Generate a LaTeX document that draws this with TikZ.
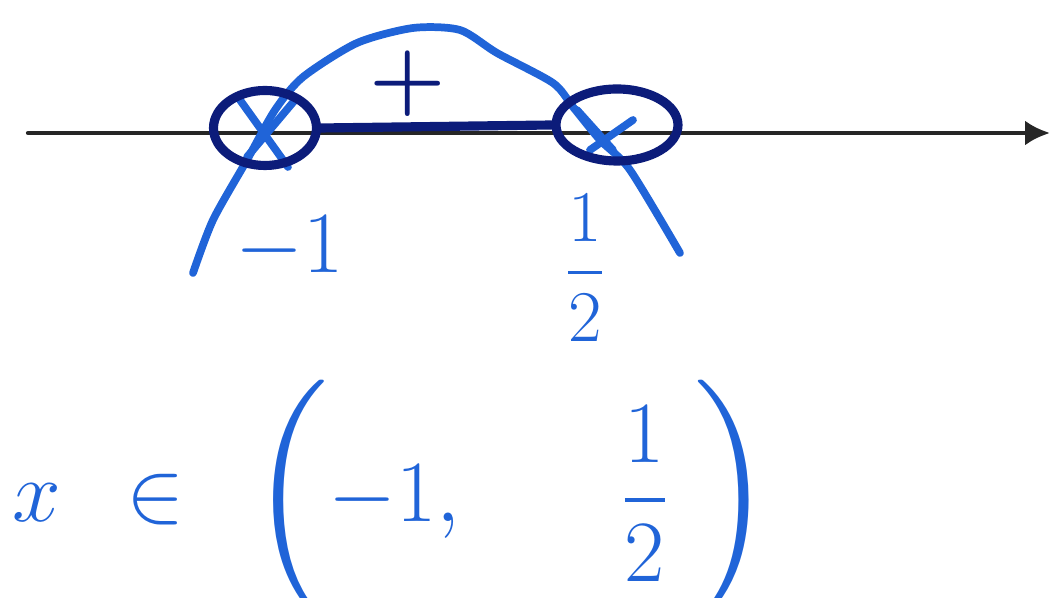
\documentclass[tikz,border=0pt]{standalone}
\usepackage{amsmath, amssymb}
\usepackage{xcolor}
\usepackage{tikz}
\usetikzlibrary{arrows.meta, positioning, shapes.geometric}
\definecolor{PenBlue}{RGB}{32, 100, 216}
\definecolor{PenNavy}{RGB}{12, 28, 122}

\begin{document}
\begin{tikzpicture}[line cap=round, line join=round,
    pen/.style={PenBlue, line width=2.2pt},
    ink/.style={PenNavy, line width=2.6pt},
    rootring/.style={ellipse, draw=PenNavy, line width=2.6pt, inner sep=0pt}]
    \useasboundingbox (0,0) rectangle (10.53,5.98);

    % Zahlengerade
    \coordinate (axstart) at (0.28,4.65);
    \coordinate (axend) at (10.50,4.65);
    \draw[-{Latex[length=2.5mm, width=2.5mm]}, line width=1.2pt, black!85] (axstart) -- (axend);

    % Parabel (nach unten geoeffnet)
    \draw[pen] plot[smooth, tension=0.45] coordinates {(1.93,3.25) (2.13,3.78) (2.47,4.38) (2.75,4.88) (3.03,5.21) (3.57,5.55) (4.13,5.70) (4.60,5.68) (4.97,5.45) (5.53,5.15) (5.73,4.91) (6.00,4.58) (6.30,4.28) (6.80,3.45)};

    % Nullstellen markiert
    \draw[pen] (2.40,4.98) -- (2.88,4.31);
    \draw[pen] (2.95,4.98) -- (2.47,4.41);
    \draw[pen] (5.77,4.88) -- (6.13,4.48);
    \draw[pen] (6.33,4.78) -- (5.90,4.48);

    % Kreise um die Nullstellen
    \node[rootring, minimum width=1.03cm, minimum height=0.75cm] (lroot) at (2.65,4.70) {};
    \node[rootring, minimum width=1.22cm, minimum height=0.72cm] (rroot) at (6.17,4.73) {};

    % Loesungsbereich
    \draw[ink] (lroot.east) -- (rroot.west);
    \node[PenNavy, font=\fontsize{30}{30}\selectfont] (plus) at (4.08,5.14) {$\boldsymbol{+}$};

    % Beschriftung
    \node[PenBlue, inner sep=0pt, font=\fontsize{24}{28}\selectfont] (lval) at (2.90,3.50) {$-1$};
    \node[PenBlue, inner sep=0pt, font=\fontsize{22}{26}\selectfont] (rval) at (5.85,3.30) {$\dfrac{1}{2}$};

    % Ergebnis
    \node[PenBlue, inner sep=0pt, font=\fontsize{38}{44}\selectfont] (result) at (3.93,0.98)
        {$x\ \in\ \biggl(-1,\ \ \ \;\text{\fontsize{26}{30}\selectfont$\dfrac{1}{2}$}\;\biggr)$};
\end{tikzpicture}
\end{document}
